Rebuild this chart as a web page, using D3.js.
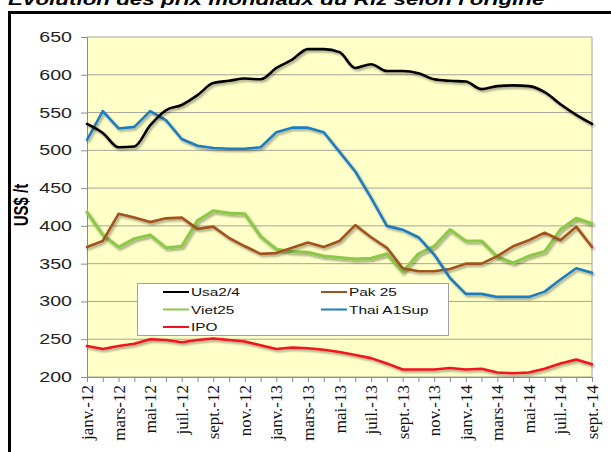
<!DOCTYPE html>
<html><head><meta charset="utf-8">
<script src="https://cdn.jsdelivr.net/npm/d3@7"></script>
<style>body{margin:0;background:#fff}svg{display:block}</style>
</head><body>
<script>
const months = ["janv.-12","févr.-12","mars-12","avr.-12","mai-12","juin-12","juil.-12","août-12","sept.-12","oct.-12","nov.-12","déc.-12",
"janv.-13","févr.-13","mars-13","avr.-13","mai-13","juin-13","juil.-13","août-13","sept.-13","oct.-13","nov.-13","déc.-13",
"janv.-14","févr.-14","mars-14","avr.-14","mai-14","juin-14","juil.-14","août-14","sept.-14"];
const usa  = [535,523,504,505,533,553,560,573,589,592,595,594,609,620,634,634,630,609,614,605,605,602,594,592,591,581,585,586,585,577,561,547,535];
const pak  = [372,380,416,411,405,410,411,396,399,384,373,363,364,371,378,372,380,401,385,371,344,340,340,343,350,350,360,373,381,391,381,399,372];
const viet = [418,388,372,383,388,371,373,407,420,417,416,386,369,366,365,360,358,356,357,363,339,363,373,395,380,380,359,351,360,366,395,410,403];
const thai = [514,552,529,531,552,540,515,506,503,502,502,504,524,530,530,524,498,472,437,400,395,385,362,331,310,310,306,306,306,313,329,344,338];
const ipo  = [241,237,241,244,250,249,246,249,251,249,247,242,237,239,238,236,233,229,225,218,210,210,210,212,210,211,206,205,206,211,218,223,217];
const seriesNames = ["Usa2/4","Pak 25","Viet25","Thai A1Sup","IPO"];
const seriesColors = ["#000000","#A0521E","#8DC84B","#1F7BC1","#F0141E"];
const yTicks = [200,250,300,350,400,450,500,550,600,650];
const title = "Evolution des prix mondiaux du Riz selon l'origine";
const yTitle = "US$ /t";

const W=611,H=452;
const svg=d3.select("body").append("svg").attr("width",W).attr("height",H);
const defs=svg.append("defs");
const f=defs.append("filter").attr("id","sh").attr("x","-5%").attr("y","-5%").attr("width","110%").attr("height","120%");
f.append("feDropShadow").attr("dx",1.5).attr("dy",2).attr("stdDeviation",1.2).attr("flood-color","#000").attr("flood-opacity",0.35);

// title (cut off at top, as in the reference)
svg.append("text").attr("transform","translate(8,5) scale(1.4,1)")
  .attr("font-family","Liberation Sans, Arial, sans-serif").attr("font-size",16)
  .attr("font-weight","bold").attr("font-style","italic").text(title);

// frame
svg.append("rect").attr("x",9.5).attr("y",12.5).attr("width",W+20).attr("height",H+20)
  .attr("fill","#fff").attr("stroke","#000").attr("stroke-width",3);

const x=d3.scalePoint().domain(months).range([87,592]);
const y=d3.scaleLinear().domain([200,650]).range([377,37]);

// plot background
svg.append("rect").attr("x",87).attr("y",37).attr("width",592-87).attr("height",377-37).attr("fill","#FFFFC8");
// grid
svg.append("g").selectAll("line").data(yTicks).join("line")
  .attr("x1",87).attr("x2",592).attr("y1",d=>y(d)).attr("y2",d=>y(d))
  .attr("stroke","#A6A69A").attr("stroke-width",1);
// right border
svg.append("line").attr("x1",592).attr("x2",592).attr("y1",37).attr("y2",377).attr("stroke","#A6A69A");

// y axis
const ya=svg.append("g").attr("transform","translate(87,0)").call(d3.axisLeft(y).tickValues(yTicks).tickSize(6).tickFormat(""));
ya.select(".domain").attr("stroke","#8C8C8C");
ya.selectAll(".tick line").attr("stroke","#8C8C8C");
svg.append("g").selectAll("text").data(yTicks).join("text")
  .attr("transform",d=>`translate(72,${y(d)+5}) scale(1.4,1)`)
  .attr("text-anchor","end").attr("font-family","Liberation Sans, Arial, sans-serif")
  .attr("font-size",14).attr("fill","#222").text(d=>d);

// x axis
const xa=svg.append("g").attr("transform","translate(0,377)").call(d3.axisBottom(x).tickSize(5).tickFormat(""));
xa.select(".domain").attr("stroke","#8C8C8C");
xa.selectAll(".tick line").attr("stroke","#8C8C8C");
const labelled=months.filter((m,i)=>i%2===0);
svg.append("g").selectAll("text").data(labelled).join("text")
  .attr("transform",d=>`translate(${x(d)+6},385) rotate(-90)`)
  .attr("text-anchor","end").attr("font-family","Liberation Serif, Times New Roman, serif")
  .attr("font-size",17).attr("fill","#111").text(d=>d);

// y title
svg.append("text").attr("transform","translate(28,205) scale(1.3,1) rotate(-90)")
  .attr("text-anchor","middle").attr("font-family","Liberation Sans, Arial, sans-serif")
  .attr("font-size",15).attr("font-weight","bold").text(yTitle);

// lines
const allSeries=[usa,pak,viet,thai,ipo];
const drawOrder=[4,2,1,3,0];
drawOrder.forEach(i=>{
  const line=d3.line().x((d,j)=>x(months[j])).y(d=>y(d))
    .curve(i===0?d3.curveMonotoneX:d3.curveLinear);
  svg.append("path").datum(allSeries[i]).attr("d",line).attr("fill","none")
    .attr("stroke",seriesColors[i]).attr("stroke-width",i===2?3.2:2.6)
    .attr("stroke-linejoin","round").attr("stroke-linecap","round").attr("filter","url(#sh)");
});

// legend
svg.append("rect").attr("x",137.5).attr("y",283.5).attr("width",311).attr("height",52)
  .attr("fill","#fff").attr("stroke","#A0A0A0");
const legPos=[[163,292],[321,292],[163,309.5],[321,309.5],[163,327]];
seriesNames.forEach((n,i)=>{
  const [lx,ly]=legPos[i];
  svg.append("line").attr("x1",lx).attr("x2",lx+26).attr("y1",ly).attr("y2",ly)
    .attr("stroke",seriesColors[i]).attr("stroke-width",2);
  svg.append("text").attr("transform",`translate(${lx+28},${ly+4}) scale(1.4,1)`)
    .attr("font-family","Liberation Sans, Arial, sans-serif").attr("font-size",11)
    .attr("fill","#111").text(n);
});
</script>
</body></html>
